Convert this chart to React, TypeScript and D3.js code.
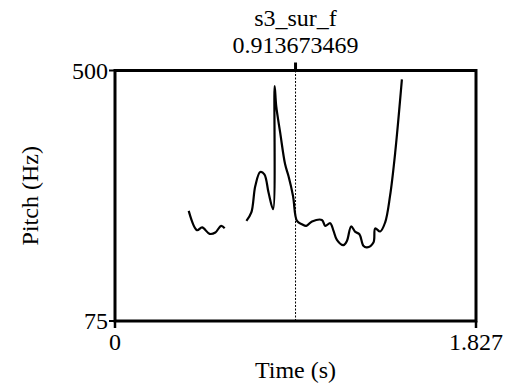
import * as d3 from 'd3';

// Pitch contour (time in s, pitch in Hz)
const segmentOneTimes = [0.373, 0.415, 0.441, 0.479, 0.508, 0.537, 0.555];
const segmentOneHz = [261.8, 229.0, 233.7, 222.8, 225.2, 236.4, 232.5];

const segmentTwoTimes = [
  0.665, 0.690, 0.710, 0.735, 0.756, 0.777, 0.800, 0.808, 0.816, 0.836,
  0.861, 0.878, 0.901, 0.921, 0.946, 0.968, 0.997, 1.047, 1.064, 1.089,
  1.106, 1.123, 1.156, 1.174, 1.195, 1.216, 1.237, 1.257, 1.275, 1.308,
  1.317, 1.342, 1.367, 1.392, 1.418, 1.452
];
const segmentTwoHz = [
  244.8, 259.1, 304.1, 327.8, 323.9, 292.9, 264.6, 473.4, 439.5, 394.5,
  340.8, 321.0, 287.2, 244.8, 239.2, 236.4, 243.8, 246.5, 236.4, 240.9,
  227.9, 212.7, 203.7, 211.0, 235.4, 226.2, 222.3, 202.5, 199.8, 208.3,
  232.0, 226.9, 242.1, 287.2, 360.6, 484.8
];

const timeRange = [0, 1.827];
const pitchRange = [75, 500];
const cursorTime = 0.913673469;
const title = 's3_sur_f';

export default function App() {
  const width = 506;
  const height = 383;
  const margin = { top: 70.5, right: 30, bottom: 62, left: 115 };
  const font = '"Liberation Serif", "Times New Roman", serif';
  const fs = 24;

  const x = d3.scaleLinear().domain(timeRange).range([margin.left, width - margin.right]);
  const y = d3.scaleLinear().domain(pitchRange).range([height - margin.bottom, margin.top]);

  const line = d3.line<[number, number]>()
    .x(d => x(d[0]))
    .y(d => y(d[1]))
    .curve(d3.curveCatmullRom.alpha(0.5));

  const segments = [
    segmentOneTimes.map((t, i) => [t, segmentOneHz[i]] as [number, number]),
    segmentTwoTimes.map((t, i) => [t, segmentTwoHz[i]] as [number, number])
  ];

  const x0 = x(timeRange[0]);
  const x1 = x(timeRange[1]);
  const yTop = y(pitchRange[1]);
  const yBot = y(pitchRange[0]);
  const xc = x(cursorTime);

  return (
    <svg width={width} height={height} style={{ position: 'absolute', left: 0, top: 0 }}>
      <rect width={width} height={height} fill="#fff" />

      {/* cursor */}
      <line x1={xc} x2={xc} y1={yTop} y2={yBot} stroke="#000" strokeWidth={1} strokeDasharray="2,1.5" />
      <line x1={xc} x2={xc} y1={yTop - 8} y2={yTop} stroke="#000" strokeWidth={3} />

      {/* pitch contour */}
      {segments.map((s, i) => (
        <path key={i} d={line(s) || ''} fill="none" stroke="#000" strokeWidth={2.2} strokeLinejoin="round" />
      ))}

      {/* frame */}
      <rect x={x0} y={yTop} width={x1 - x0} height={yBot - yTop} fill="none" stroke="#000" strokeWidth={3} />

      {/* y ticks */}
      {pitchRange.map(v => (
        <g key={v}>
          <line x1={x0 - 6} x2={x0} y1={y(v)} y2={y(v)} stroke="#000" strokeWidth={2} />
          <text x={x0 - 7} y={y(v)} textAnchor="end" dominantBaseline="central" fontFamily={font} fontSize={fs}>
            {v}
          </text>
        </g>
      ))}

      {/* x ticks */}
      {timeRange.map(v => (
        <g key={v}>
          <line x1={x(v)} x2={x(v)} y1={yBot} y2={yBot + 7} stroke="#000" strokeWidth={2.5} />
          <text x={x(v)} y={yBot + 29} textAnchor="middle" fontFamily={font} fontSize={fs}>
            {v}
          </text>
        </g>
      ))}

      {/* titles */}
      <text x={xc} y={26} textAnchor="middle" fontFamily={font} fontSize={fs}>{title}</text>
      <text x={xc} y={53} textAnchor="middle" fontFamily={font} fontSize={fs}>{cursorTime}</text>
      <text x={(x0 + x1) / 2} y={yBot + 57} textAnchor="middle" fontFamily={font} fontSize={fs}>Time (s)</text>
      <text
        transform={`translate(38,${(yTop + yBot) / 2}) rotate(-90)`}
        textAnchor="middle"
        fontFamily={font}
        fontSize={fs}
      >
        Pitch (Hz)
      </text>
    </svg>
  );
}
